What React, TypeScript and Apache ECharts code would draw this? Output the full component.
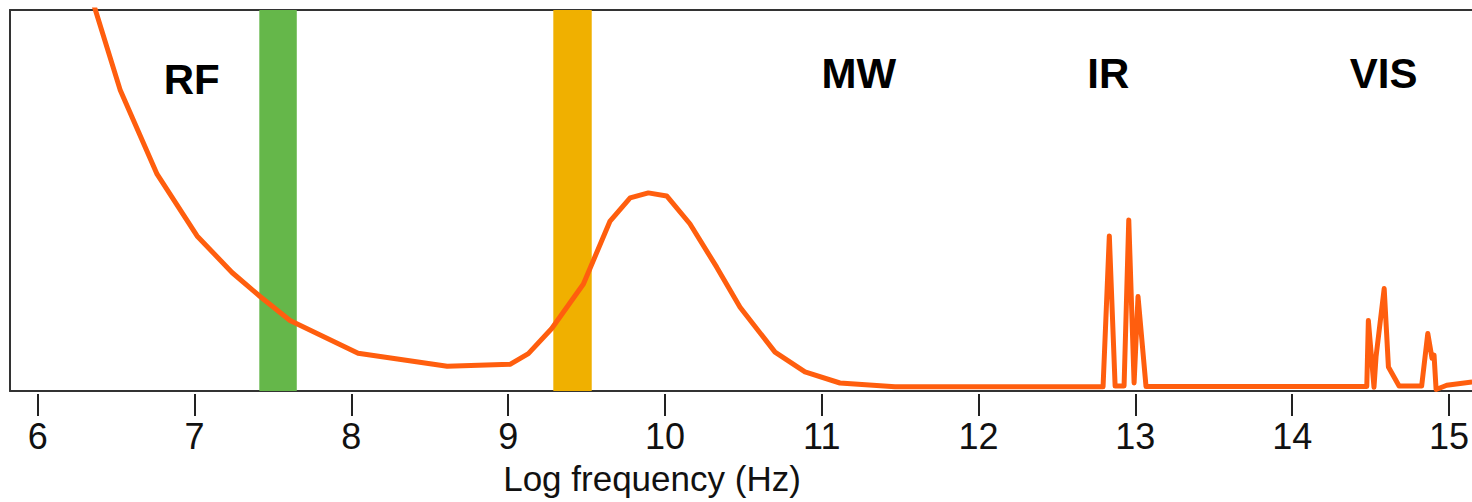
import React, { useEffect, useRef } from "react";
import * as echarts from "echarts";

// Spectrum curve: [log frequency (Hz), relative intensity]
const curveX = [
  6.33, 6.525, 6.761, 7.016, 7.239, 7.418, 7.609, 8.043, 8.611, 9.012,
  9.129, 9.278, 9.48, 9.65, 9.778, 9.894, 10.011, 10.159, 10.33, 10.479,
  10.702, 10.893, 11.116, 11.467, 12.794, 12.834, 12.871, 12.928, 12.958, 12.992,
  13.017, 13.068, 14.476, 14.486, 14.522, 14.535, 14.587, 14.614, 14.682, 14.826,
  14.865, 14.892, 14.905, 14.918, 14.986, 15.148,
];
const curveY = [
  105, 79.1, 56.9, 40.7, 31.1, 24.8, 18.5, 9.9, 6.5, 7.0,
  9.8, 16.4, 28.1, 44.6, 50.7, 52.0, 51.2, 43.9, 32.5, 22.0,
  10.2, 5.0, 2.1, 1.1, 1.1, 40.7, 1.3, 1.3, 44.9, 2.1,
  24.8, 1.2, 1.2, 18.5, 1.0, 9.0, 26.9, 6.3, 1.3, 1.3,
  15.1, 8.6, 9.4, 0.4, 1.5, 2.4,
];

// Highlighted frequency bands
const bandNames = ["green", "orange"];
const bandFrom = [7.413, 9.288];
const bandTo = [7.652, 9.533];

// Region labels
const regionNames = ["RF", "MW", "IR", "VIS"];

// x-axis ticks
const tickValues = [6, 7, 8, 9, 10, 11, 12, 13, 14, 15];

const X_MIN = 5.823;
const X_MAX = 15.147;

export default function App() {
  const ref = useRef<HTMLDivElement>(null);

  useEffect(() => {
    if (!ref.current) return;
    const chart = echarts.init(ref.current, undefined, { renderer: "svg" });
    const bandColors: Record<string, string> = { green: "#65b74a", orange: "#f0b000" };
    const font = "'Liberation Sans', Arial, Helvetica, sans-serif";
    const regionPos = [
      [191.7, 79.4],
      [858.9, 73.7],
      [1108.3, 73.7],
      [1383.7, 73.7],
    ];
    chart.setOption({
      animation: false,
      grid: { left: 10, right: 0, top: 10, bottom: 111, containLabel: false },
      xAxis: [
        {
          type: "value",
          min: X_MIN,
          max: X_MAX,
          position: "bottom",
          axisLine: { show: true, lineStyle: { color: "#333", width: 2 } },
          axisTick: { show: false },
          axisLabel: { show: false },
          splitLine: { show: false },
        },
        {
          type: "value",
          min: X_MIN,
          max: X_MAX,
          position: "bottom",
          offset: 3,
          axisLine: { show: false },
          axisTick: {
            show: true,
            length: 22,
            lineStyle: { color: "#222", width: 2 },
            customValues: tickValues,
          },
          axisLabel: {
            show: true,
            customValues: tickValues,
            fontSize: 36,
            fontFamily: font,
            color: "#111",
            margin: 24,
          },
          splitLine: { show: false },
        },
        {
          type: "value",
          min: X_MIN,
          max: X_MAX,
          position: "top",
          axisLine: { show: true, lineStyle: { color: "#333", width: 2 } },
          axisTick: { show: false },
          axisLabel: { show: false },
          splitLine: { show: false },
        },
      ],
      yAxis: {
        type: "value",
        min: 0,
        max: 100,
        axisLine: { show: true, lineStyle: { color: "#333", width: 2 } },
        axisTick: { show: false },
        axisLabel: { show: false },
        splitLine: { show: false },
      },
      series: [
        {
          type: "line",
          xAxisIndex: 0,
          data: curveX.map((x, i) => [x, curveY[i]]),
          showSymbol: false,
          symbol: "none",
          clip: true,
          z: 3,
          lineStyle: { color: "#ff5e0e", width: 5, join: "round" },
          markArea: {
            silent: true,
            z: 1,
            data: bandNames.map((n, i) => [
              { xAxis: bandFrom[i], itemStyle: { color: bandColors[n], opacity: 1 } },
              { xAxis: bandTo[i] },
            ]),
          },
        },
      ],
      graphic: [
        ...regionNames.map((name, i) => ({
          type: "text",
          x: regionPos[i][0],
          y: regionPos[i][1],
          style: {
            text: name,
            fontSize: 42,
            fontWeight: "bold",
            fontFamily: font,
            fill: "#000",
            align: "center",
            verticalAlign: "middle",
          },
        })),
        {
          type: "text",
          x: 652,
          y: 478,
          style: {
            text: "Log frequency (Hz)",
            fontSize: 35,
            fontFamily: font,
            fill: "#111",
            align: "center",
            verticalAlign: "middle",
          },
        },
      ],
    });
    return () => chart.dispose();
  }, []);

  return (
    <div
      ref={ref}
      style={{ position: "fixed", left: 0, top: 0, width: 1472, height: 502, background: "#fff" }}
    />
  );
}
